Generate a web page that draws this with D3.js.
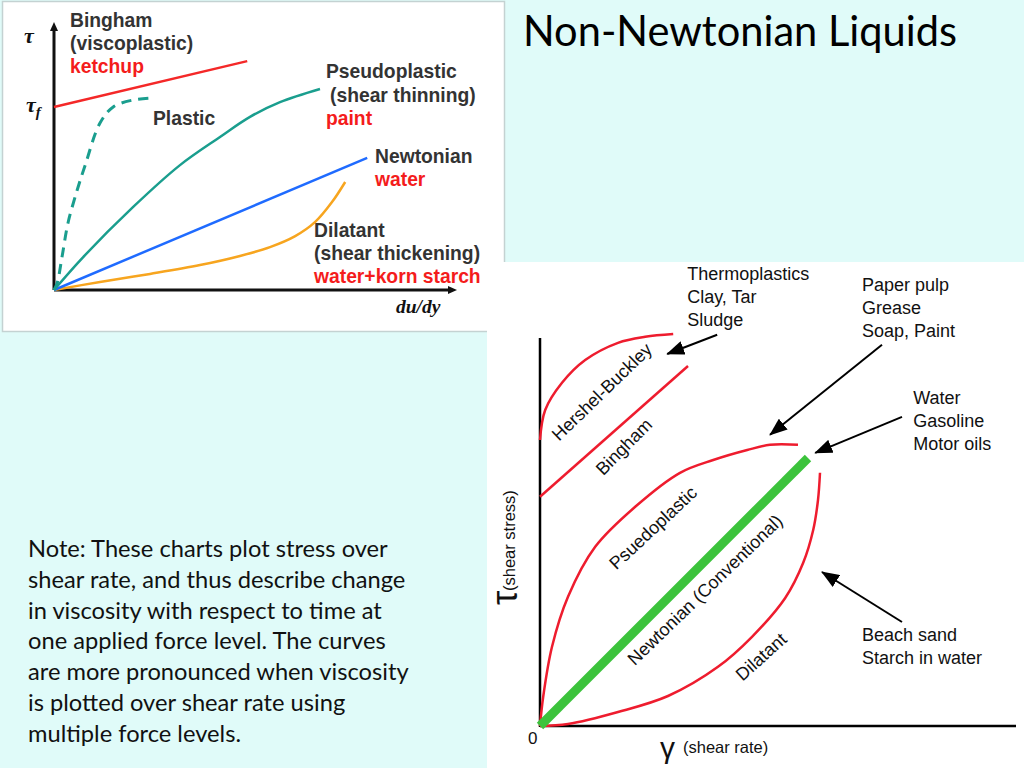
<!DOCTYPE html>
<html><head><meta charset="utf-8">
<script src="https://cdn.jsdelivr.net/npm/d3@7"></script>
<style>html,body{margin:0;padding:0;background:#e0fbf9;}svg{display:block;}</style>
</head><body>
<script>
// ---------- DATA ----------
// Left chart (units: x 0..10 shear rate, y 0..10 stress)
const leftBingham   = [[0,6.83],[4.83,8.54]];
const leftPlastic   = [[0,0],[0.08,0.26],[0.2,1.23],[0.35,2.5],[0.58,3.73],[0.78,4.66],[1.15,6.23],[1.48,6.83],[1.98,7.09],[2.45,7.16]];
const leftPseudo    = [[0,0],[0.73,1.23],[1.98,3.1],[3.15,4.66],[4.15,5.71],[4.9,6.46],[5.65,7.01],[6.65,7.5]];
const leftNewtonian = [[0,0],[7.83,4.93]];
const leftDilatant  = [[0,0],[1.15,0.3],[2.4,0.6],[3.65,0.93],[4.65,1.27],[5.4,1.6],[6.03,2.01],[6.53,2.54],[6.95,3.28],[7.28,4.03]];
const leftLabels = [
  {x:70,y:27,t:"Bingham",c:"#333"},{x:70,y:50,t:"(viscoplastic)",c:"#333"},{x:70,y:73,t:"ketchup",c:"#f41c1c"},
  {x:153,y:125,t:"Plastic",c:"#333"},
  {x:326,y:78,t:"Pseudoplastic",c:"#333"},{x:330,y:102,t:"(shear thinning)",c:"#333"},{x:326,y:125,t:"paint",c:"#f41c1c"},
  {x:375,y:163,t:"Newtonian",c:"#333"},{x:375,y:186,t:"water",c:"#f41c1c"},
  {x:314,y:237,t:"Dilatant",c:"#333"},{x:314,y:260,t:"(shear thickening)",c:"#333"},{x:314,y:283,t:"water+korn starch",c:"#f41c1c"}
];

// Right chart (units of shear rate / shear stress)
const rHershel   = [[0,7.15],[0.13,7.9],[0.55,8.58],[1.13,9.15],[1.95,9.58],[2.63,9.73],[3.33,9.8]];
const rBingham   = [[0,5.73],[3.7,9.0]];
const rPseudo    = [[0,0],[0.08,0.73],[0.3,1.98],[0.7,3.23],[1.38,4.48],[2.38,5.48],[3.5,6.33],[4.33,6.65],[5.18,6.9],[5.75,7.03],[6.45,7.03]];
const rNewtonian = [[0,0],[6.7,6.7]];
const rDilatant  = [[0,0],[0.7,0.05],[1.95,0.35],[3.2,0.75],[4.45,1.48],[5.3,2.23],[6.13,3.2],[6.58,4.08],[6.83,4.9],[6.95,5.65],[7.0,6.33]];
const rCurveLabels = [
  {x:1.55,y:8.35,a:-44,t:"Hershel-Buckley"},
  {x:2.1,y:6.98,a:-45,t:"Bingham"},
  {x:2.83,y:4.95,a:-43,t:"Psuedoplastic"},
  {x:4.13,y:3.4,a:-44,t:"Newtonian (Conventional)"},
  {x:5.53,y:1.73,a:-42,t:"Dilatant"}
];
const rNotes = [
  {x:3.68,y:11.15,lines:["Thermoplastics","Clay, Tar","Sludge"],from:[4.43,9.78],to:[3.18,9.3]},
  {x:8.05,y:10.88,lines:["Paper pulp","Grease","Soap, Paint"],from:[8.55,9.53],to:[5.75,7.28]},
  {x:9.33,y:8.05,lines:["Water","Gasoline","Motor oils"],from:[9.05,7.73],to:[6.88,6.83]},
  {x:8.05,y:2.13,lines:["Beach sand","Starch in water"],from:[9.05,2.6],to:[7.05,3.85]}
];
const noteLines = ["Note: These charts plot stress over","shear rate, and thus describe change","in viscosity with respect to time at","one applied force level. The curves","are more pronounced when viscosity","is plotted over shear rate using","multiple force levels."];
const title = "Non-Newtonian Liquids";

// ---------- DRAW ----------
const svg = d3.select("body").append("svg").attr("width",1024).attr("height",768);
svg.append("rect").attr("width",1024).attr("height",768).attr("fill","#e0fbf9");
const defs = svg.append("defs");
defs.append("marker").attr("id","ah").attr("viewBox","0 0 18 14").attr("refX",17).attr("refY",7)
  .attr("markerWidth",18).attr("markerHeight",14).attr("markerUnits","userSpaceOnUse").attr("orient","auto")
  .append("path").attr("d","M0,0L18,7L0,14Z").attr("fill","#000");

const sans = "'Liberation Sans', Arial, sans-serif";
const serif = "'Liberation Serif', 'Times New Roman', serif";
const calib = "Lato, 'Open Sans', sans-serif";

// Left panel
svg.append("rect").attr("x",2.5).attr("y",1.5).attr("width",502).attr("height",330)
  .attr("fill","#fff").attr("stroke","#c4d2d2").attr("stroke-width",1.5);

const xL = d3.scaleLinear().domain([0,10]).range([54,454]);
const yL = d3.scaleLinear().domain([0,10]).range([290,22]);
const lineL = d3.line().x(d=>xL(d[0])).y(d=>yL(d[1])).curve(d3.curveCatmullRom);
const gL = svg.append("g");
gL.append("line").attr("x1",xL(0)).attr("y1",yL(0)).attr("x2",xL(0)).attr("y2",yL(10)+6).attr("stroke","#111").attr("stroke-width",3);
gL.append("path").attr("d",`M${xL(0)},${yL(10)}L${xL(0)-4},${yL(10)+9}L${xL(0)+4},${yL(10)+9}Z`).attr("fill","#111");
gL.append("line").attr("x1",xL(0)).attr("y1",yL(0)).attr("x2",xL(10)-4).attr("y2",yL(0)).attr("stroke","#111").attr("stroke-width",3);
gL.append("path").attr("d",`M${xL(10)+3},${yL(0)}L${xL(10)-6},${yL(0)-4}L${xL(10)-6},${yL(0)+4}Z`).attr("fill","#111");

gL.append("path").attr("d",lineL(leftDilatant)).attr("fill","none").attr("stroke","#f7a51f").attr("stroke-width",2.5);
gL.append("path").attr("d",lineL(leftNewtonian)).attr("fill","none").attr("stroke","#1f6bff").attr("stroke-width",2.5);
gL.append("path").attr("d",lineL(leftPseudo)).attr("fill","none").attr("stroke","#1a9e8e").attr("stroke-width",2.5);
gL.append("path").attr("d",lineL(leftPlastic)).attr("fill","none").attr("stroke","#1a9e8e").attr("stroke-width",3).attr("stroke-dasharray","10,7");
gL.append("path").attr("d",lineL(leftBingham)).attr("fill","none").attr("stroke","#f42828").attr("stroke-width",2.5);

gL.selectAll("text.lbl").data(leftLabels).join("text").attr("class","lbl")
  .attr("x",d=>d.x).attr("y",d=>d.y).text(d=>d.t).attr("fill",d=>d.c)
  .attr("font-family",sans).attr("font-weight","bold").attr("font-size",19.3);

gL.append("text").attr("x",24).attr("y",43).text("τ").attr("font-family",serif).attr("font-style","italic").attr("font-weight","bold").attr("font-size",22).attr("fill","#111");
const tf = gL.append("text").attr("x",26).attr("y",112).attr("font-family",serif).attr("font-style","italic").attr("font-weight","bold").attr("fill","#111");
tf.append("tspan").text("τ").attr("font-size",22);
tf.append("tspan").text("f").attr("font-size",15).attr("dy",5);
gL.append("text").attr("x",396).attr("y",313).text("du/dy").attr("font-family",serif).attr("font-style","italic").attr("font-weight","bold").attr("font-size",19.5).attr("fill","#111");

// Right panel
svg.append("rect").attr("x",487).attr("y",262).attr("width",537).attr("height",506).attr("fill","#fff");
const xR = d3.scaleLinear().domain([0,11.9]).range([540,1016]);
const yR = d3.scaleLinear().domain([0,9.7]).range([726,338]);
const lineR = d3.line().x(d=>xR(d[0])).y(d=>yR(d[1])).curve(d3.curveCatmullRom);
const gR = svg.append("g");
gR.append("line").attr("x1",xR(0)).attr("y1",yR(0)+1).attr("x2",xR(0)).attr("y2",yR(9.7)).attr("stroke","#000").attr("stroke-width",2.5);
gR.append("line").attr("x1",xR(0)).attr("y1",yR(0)).attr("x2",xR(11.9)).attr("y2",yR(0)).attr("stroke","#000").attr("stroke-width",2.5);

const red = "#ee1c2e";
[rHershel,rBingham,rPseudo,rDilatant].forEach(s=>{
  gR.append("path").attr("d",lineR(s)).attr("fill","none").attr("stroke",red).attr("stroke-width",2.5);
});
gR.append("path").attr("d",lineR(rNewtonian)).attr("fill","none").attr("stroke","#3cc33c").attr("stroke-width",9);

gR.selectAll("text.cl").data(rCurveLabels).join("text").attr("class","cl")
  .attr("transform",d=>`translate(${xR(d.x)},${yR(d.y)}) rotate(${d.a})`)
  .attr("text-anchor","middle").attr("dominant-baseline","central")
  .attr("font-family",sans).attr("font-size",18).attr("fill","#111").text(d=>d.t);

rNotes.forEach(n=>{
  const t = gR.append("text").attr("x",xR(n.x)).attr("y",yR(n.y)).attr("font-family",sans).attr("font-size",18).attr("fill","#111");
  n.lines.forEach((l,i)=>t.append("tspan").attr("x",xR(n.x)).attr("dy",i?23:0).text(l));
  gR.append("line").attr("x1",xR(n.from[0])).attr("y1",yR(n.from[1])).attr("x2",xR(n.to[0])).attr("y2",yR(n.to[1]))
    .attr("stroke","#000").attr("stroke-width",2).attr("marker-end","url(#ah)");
});

gR.append("text").attr("x",xR(0)-12).attr("y",yR(0)+18).text("0").attr("font-family",sans).attr("font-size",17).attr("fill","#111");
gR.append("text").attr("x",660).attr("y",758).text("γ").attr("font-family",sans).attr("font-size",30).attr("fill","#111");
gR.append("text").attr("x",683).attr("y",753).text("(shear rate)").attr("font-family",sans).attr("font-size",16.5).attr("fill","#111");
gR.append("text").attr("transform","translate(517,598) rotate(-90)").attr("text-anchor","middle").text("τ").attr("font-family",sans).attr("font-size",36).attr("fill","#111");
gR.append("text").attr("transform","translate(515,591) rotate(-90)").text("(shear stress)").attr("font-family",sans).attr("font-size",16.5).attr("fill","#111");

// Title
const tt = svg.append("text").attr("x",523).attr("y",46).text(title).attr("font-family",calib).attr("font-size",38).attr("fill","#000");
const tw = tt.node().getComputedTextLength(); tt.attr("font-size",38*434/tw);

// Note
const nt = svg.append("g").selectAll("text").data(noteLines).join("text").attr("x",28).attr("y",(d,i)=>557+i*30.8)
  .text(d=>d).attr("font-family",calib).attr("font-size",21).attr("fill","#111");
const nw = nt.nodes()[0].getComputedTextLength(); nt.attr("font-size",21*360/nw);
</script>
</body></html>
